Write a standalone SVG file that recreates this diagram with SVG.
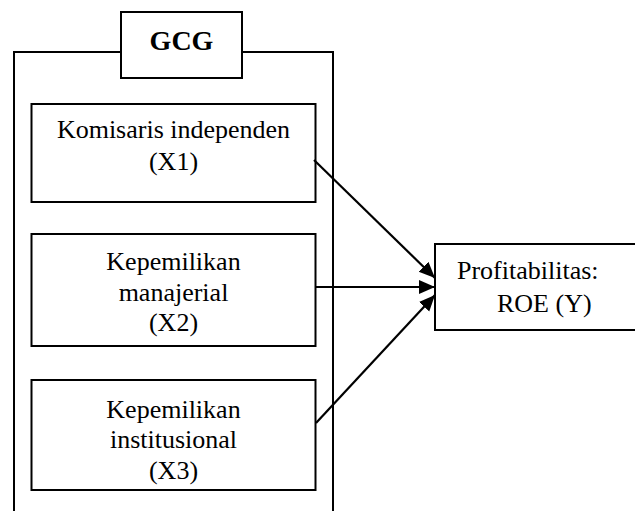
<svg xmlns="http://www.w3.org/2000/svg" width="635" height="511" viewBox="0 0 635 511">
<style>
.box{fill:#fff;stroke:#000;stroke-width:2}
.t{font-family:'Liberation Serif',Tinos,'Times New Roman',Times,'DejaVu Serif',serif;font-size:26px;fill:#000;text-anchor:middle}
.b{font-weight:bold;font-size:28px}
.c{stroke:#000;stroke-width:2.2;fill:none;marker-end:url(#ah)}
</style>
<defs>
<marker id="ah" markerUnits="userSpaceOnUse" markerWidth="18" markerHeight="16" refX="16" refY="8" orient="auto">
<path d="M0,1 L16,8 L0,15 Z" fill="#000"/>
</marker>
</defs>
<g id="frame">
<path d="M121,52 H14 V515 M242,52 H333 V515" fill="none" stroke="#000" stroke-width="2"/>
</g>
<g id="gcg">
<rect class="box" x="121" y="12" width="121" height="66"/>
<text class="t b" x="181.5" y="50">GCG</text>
</g>
<g id="x1">
<rect class="box" x="31.5" y="104" width="284" height="98"/>
<text class="t" x="173.5" y="138">Komisaris independen</text>
<text class="t" x="173.5" y="170">(X1)</text>
</g>
<g id="x2">
<rect class="box" x="31.5" y="234" width="284" height="112"/>
<text class="t" x="173.5" y="270">Kepemilikan</text>
<text class="t" x="173.5" y="301">manajerial</text>
<text class="t" x="173.5" y="331">(X2)</text>
</g>
<g id="x3">
<rect class="box" x="31.5" y="380" width="284" height="110"/>
<text class="t" x="173.5" y="418">Kepemilikan</text>
<text class="t" x="173.5" y="448">institusional</text>
<text class="t" x="173.5" y="479">(X3)</text>
</g>
<g id="y">
<rect class="box" x="435" y="244" width="210" height="86"/>
<text class="t" x="457" y="279" style="text-anchor:start">Profitabilitas:</text>
<text class="t" x="497" y="312" style="text-anchor:start">ROE (Y)</text>
</g>
<g id="connectors">
<line class="c" x1="314" y1="160" x2="435" y2="278"/>
<line class="c" x1="316" y1="287" x2="435" y2="287"/>
<line class="c" x1="316" y1="423" x2="435" y2="295"/>
</g>
</svg>
